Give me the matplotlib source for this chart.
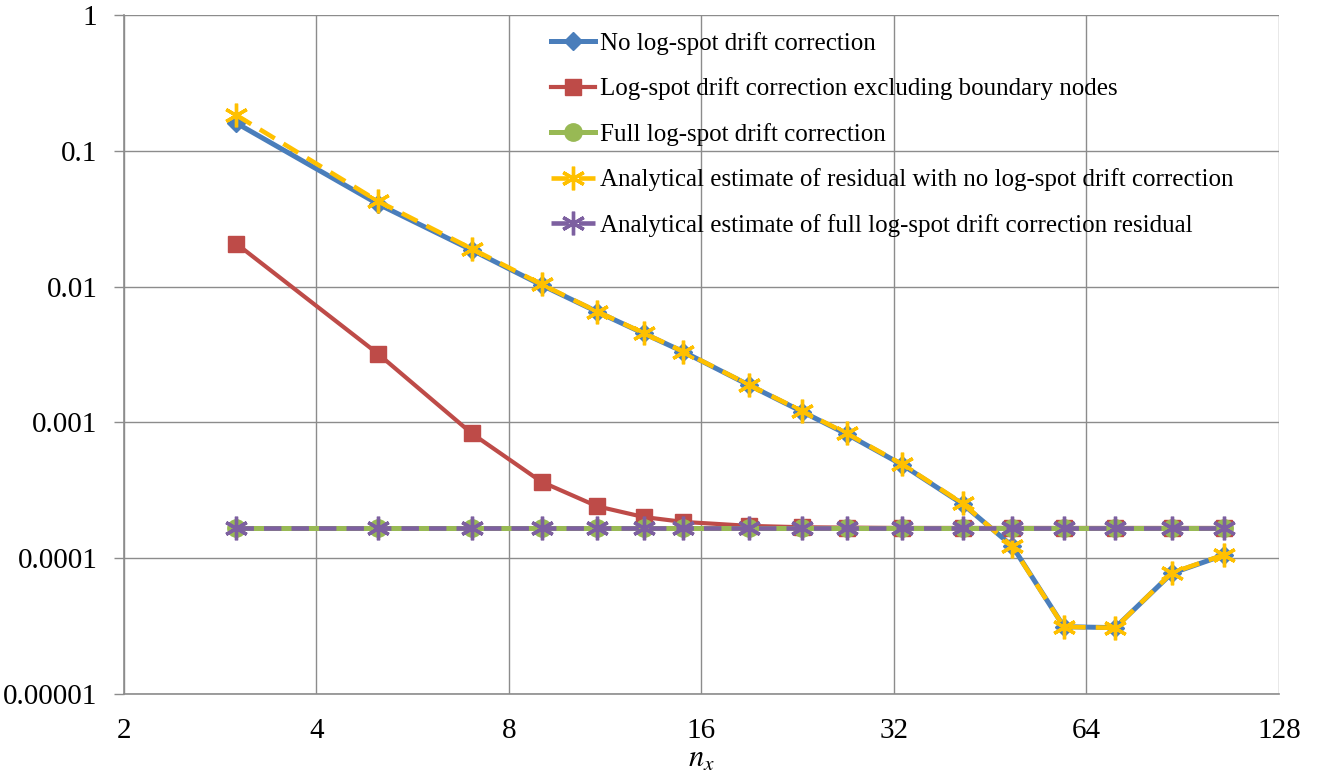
import matplotlib
matplotlib.use("Agg")
import matplotlib.pyplot as plt
from matplotlib.ticker import FixedLocator, FixedFormatter, NullLocator

nx = [3, 5, 7, 9, 11, 13, 15, 19, 23, 27, 33, 41, 49, 59, 71, 87, 105]

no_corr = [0.160, 0.0405, 0.0186, 0.01026, 0.00652, 0.00452, 0.00331, 0.00188,
           0.00120, 0.00082, 0.000486, 0.000250, 0.000123, 3.13e-5, 3.08e-5,
           7.74e-5, 1.054e-4]
excl_boundary = [0.0207, 0.00319, 0.00083, 0.000365, 0.000241, 0.000201,
                 0.000185, 0.000173, 0.000169, 0.000168, 0.000167, 0.000167,
                 0.000167, 0.000167, 0.000167, 0.000167, 0.000167]
full_corr = [0.000167] * 17
est_no_corr = [0.183, 0.0425, 0.0190, 0.01040, 0.00655, 0.00455, 0.00332, 0.00189,
               0.00121, 0.00083, 0.000490, 0.000253, 0.000122, 3.12e-5, 3.07e-5,
               7.8e-5, 1.06e-4]
est_full = [0.000168] * 17

labels = ["No log-spot drift correction",
          "Log-spot drift correction excluding boundary nodes",
          "Full log-spot drift correction",
          "Analytical estimate of residual with no log-spot drift correction",
          "Analytical estimate of full log-spot drift correction residual"]

xticks = [2, 4, 8, 16, 32, 64, 128]
xticklabels = ["2", "4", "8", "16", "32", "64", "128"]
yticks = [1e-5, 1e-4, 1e-3, 1e-2, 1e-1, 1]
yticklabels = ["0.00001", "0.0001", "0.001", "0.01", "0.1", "1"]

plt.rcParams['font.family'] = ['Liberation Serif', 'DejaVu Serif']
plt.rcParams['mathtext.fontset'] = 'stix'

fig = plt.figure(figsize=(13.25, 7.78), dpi=100)
ax = fig.add_axes([123.7 / 1325, 1 - 694 / 778, (1279 - 123.7) / 1325, (694 - 15) / 778])

ax.set_xscale('log', base=2)
ax.set_yscale('log')
ax.set_xlim(2, 128)
ax.set_ylim(1e-5, 1)

blue = '#4A7EBB'
red = '#BE4B48'
green = '#98B954'
yellow = '#FFC000'
purple = '#7D60A0'

ax.plot(nx, no_corr, color=blue, lw=3.6, marker='D', ms=9, mfc=blue, mec=blue,
        label=labels[0], zorder=3)
ax.plot(nx, excl_boundary, color=red, lw=3.0, marker='s', ms=11, mfc=red, mec=red,
        label=labels[1], zorder=4)
ax.plot(nx, full_corr, color=green, lw=3.6, marker='o', ms=12.5, mfc=green, mec=green,
        label=labels[2], zorder=5)
ax.plot(nx, est_no_corr, color=yellow, lw=3.3, ls=(0, (3.8, 2.2)), marker=(6, 2, 0),
        ms=17, mew=2.4, mec=yellow, label=labels[3], zorder=6)
ax.plot(nx, est_full, color=purple, lw=3.3, ls=(0, (3.8, 2.2)), marker=(6, 2, 0),
        ms=17, mew=2.4, mec=purple, label=labels[4], zorder=7)

ax.xaxis.set_major_locator(FixedLocator(xticks))
ax.xaxis.set_major_formatter(FixedFormatter(xticklabels))
ax.xaxis.set_minor_locator(NullLocator())
ax.yaxis.set_major_locator(FixedLocator(yticks))
ax.yaxis.set_major_formatter(FixedFormatter(yticklabels))
ax.yaxis.set_minor_locator(NullLocator())

gridc = '#8C8C8C'
ax.grid(True, which='major', color=gridc, lw=1.0)
ax.set_axisbelow(True)
for s in ['top', 'right']:
    ax.spines[s].set_visible(False)
for s in ['left', 'bottom']:
    ax.spines[s].set_color(gridc)
    ax.spines[s].set_linewidth(1.2)

ax.tick_params(axis='y', direction='out', length=7, width=1, color=gridc,
               labelsize=21, pad=12)
ax.tick_params(axis='x', direction='out', length=0, color=gridc,
               labelsize=21, pad=17)

ax.set_xlabel(r'$n_x$', fontsize=22, labelpad=1)

leg = ax.legend(loc='upper left', bbox_to_anchor=(551 / 1325, 1 - 32 / 778),
                bbox_transform=fig.transFigure, frameon=False, fontsize=18,
                handlelength=1.75, handletextpad=0.2, labelspacing=0.9,
                borderaxespad=0, borderpad=0)

fig.savefig('out.png', dpi=100)
